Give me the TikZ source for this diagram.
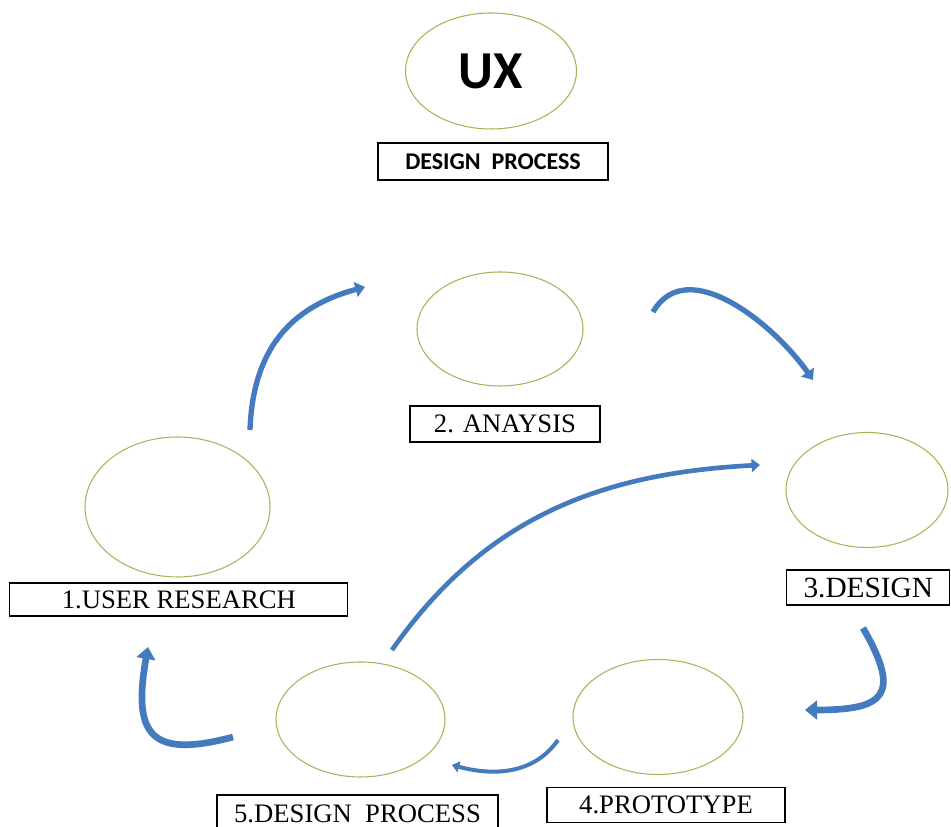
\documentclass[tikz,border=0pt]{standalone}
\usepackage{fontspec}
\setmainfont{Liberation Serif}
\newfontfamily\headfont{Carlito}
\usepackage{tikz}
\usetikzlibrary{shapes.geometric, arrows.meta, positioning}
\definecolor{ringgreen}{RGB}{155,187,89}
\definecolor{arrowblue}{RGB}{68,122,190}
\tikzset{
  bubble/.style={ellipse, draw=ringgreen, line width=0.8pt, inner sep=0pt, outer sep=0pt},
  tag/.style={draw, line width=0.8pt, inner sep=0pt, outer sep=0pt, font=\fontsize{20}{24}\selectfont},
  curvy/.style={draw=arrowblue, color=arrowblue, line width=4pt, -{Triangle[length=0pt 1.8, width=0pt 2.8]}}
}

\begin{document}
\begin{tikzpicture}[x=0.75pt, y=0.75pt]
  \clip (0,0) rectangle (951,827);
  % Ellipses
  \node[bubble, minimum width=128.25pt, minimum height=87pt] (ux) at (491,756) {\headfont\bfseries\fontsize{40}{46}\selectfont UX};
  \node[bubble, minimum width=124.5pt, minimum height=85.5pt] (analysis) at (500,498) {};
  \node[bubble, minimum width=138.75pt, minimum height=105pt] (research) at (177.5,320) {};
  \node[bubble, minimum width=121.5pt, minimum height=86.25pt] (design) at (867,337) {};
  \node[bubble, minimum width=127.5pt, minimum height=86.25pt] (prototype) at (658,110) {};
  \node[bubble, minimum width=126.75pt, minimum height=86.25pt] (process) at (360.5,107.5) {};

  % Labels
  \node[tag, font=\headfont\bfseries\fontsize{18}{22}\selectfont, minimum width=172.5pt, minimum height=27.75pt, below=10.5pt of ux, xshift=1.5pt] (uxtag) {DESIGN\ \ PROCESS};
  \node[tag, minimum width=142.5pt, minimum height=27pt, below=15pt of analysis, xshift=3.75pt] (analysistag) {2. ANAYSIS};
  \node[tag, minimum width=253.5pt, minimum height=24.75pt, below=4.5pt of research, xshift=1pt] (researchtag) {1.USER RESEARCH};
  \node[tag, font=\fontsize{22}{26}\selectfont, minimum width=122.25pt, minimum height=26.25pt, below=16.9pt of design, xshift=1pt] (designtag) {3.DESIGN};
  \node[tag, minimum width=178.5pt, minimum height=26.25pt, below=10pt of prototype, xshift=6pt] (prototypetag) {4.PROTOTYPE};
  \node[tag, minimum width=210.75pt, minimum height=27.75pt, below=13.5pt of process, xshift=-2.25pt] (processtag) {5.DESIGN\ \ PROCESS};

  % Arrow ends
  \coordinate (a1s) at (250,397); \coordinate (a1e) at (365,540);
  \coordinate (a2s) at (653,515); \coordinate (a2e) at (813,447);
  \coordinate (a3s) at (863,199); \coordinate (a3e) at (805,117);
  \coordinate (a4s) at (558,87);  \coordinate (a4e) at (452,62);
  \coordinate (a5s) at (233,90);  \coordinate (a5e) at (148,180);
  \coordinate (a6s) at (392,177); \coordinate (a6e) at (760,362);

  % Arrows
  \draw[curvy] (a1s) to[out=88, in=195, looseness=1.1] (a1e);
  \draw[curvy] (a2s) to[out=60, in=125] (a2e);
  \draw[curvy, line width=5pt] (a3s) to[out=-60, in=0, looseness=2] (a3e);
  \draw[curvy, line width=3pt] (a4s) to[out=-125, in=-15] (a4e);
  \draw[curvy, line width=5pt] (a5s) to[out=195, in=-100, looseness=1.8] (a5e);
  \draw[curvy, line width=3.5pt] (a6s) to[out=55, in=183] (a6e);
\end{tikzpicture}
\end{document}
